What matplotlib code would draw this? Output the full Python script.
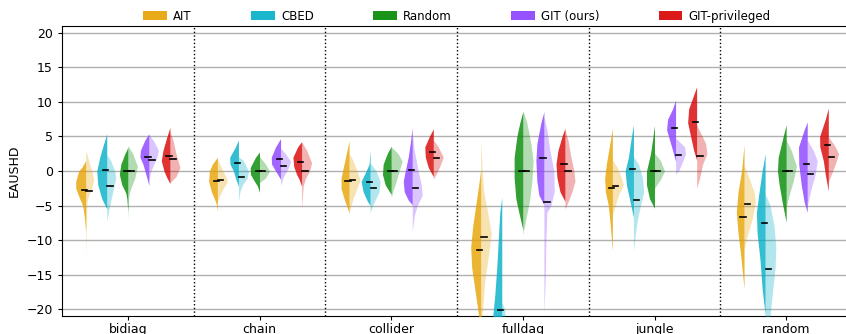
import numpy as np
import matplotlib
matplotlib.use("Agg")
import matplotlib.pyplot as plt
from matplotlib.patches import Patch

groups = ["bidiag", "chain", "collider", "fulldag", "jungle", "random"]
methods = ["AIT", "CBED", "Random", "GIT (ours)", "GIT-privileged"]
colors = ["#E6A100", "#00AEC7", "#008800", "#8A40FF", "#D90000"]

# half-violin outlines per group: (left half, right half), each a list of (EAUSHD, density)
ait_profiles = [
    ([(1.5, 0), (0.5, 4), (0, 7), (-1.5, 10), (-2.5, 10), (-4, 6), (-5, 3), (-6.5, 1.5), (-8.7, 0)],
     [(3.1, 0), (1.5, 3), (0, 6), (-1.2, 8), (-2.5, 6), (-3.5, 3), (-4.5, 1.2), (-8, 0.8), (-12.4, 0)]),
    ([(2.0, 0), (1, 5), (0, 8), (-1.5, 8.7), (-3, 6), (-4.2, 2.5), (-4.8, 1), (-5.8, 0)],
     [(1.7, 0), (0.5, 4), (-1, 9), (-1.5, 10), (-2.5, 6), (-3.5, 2.5), (-4.4, 0)]),
    ([(4.4, 0), (3, 2), (1, 5), (-1, 8), (-2.5, 8), (-4, 5), (-5.2, 2), (-6.1, 0)],
     [(2.6, 0), (1.5, 4), (0, 8), (-1.3, 11), (-2.5, 8), (-4, 4), (-6, 0)]),
    ([(0.2, 0), (-2, 2), (-5, 5), (-8, 8), (-11, 10), (-14, 9), (-17, 6), (-20, 3), (-23, 0)],
     [(4.5, 0), (0, 1.5), (-3, 3), (-6, 7), (-9, 10.5), (-12, 8), (-16, 4), (-20, 2), (-23, 0)]),
    ([(6.2, 0), (4, 2.5), (1, 6), (-1, 7.7), (-3, 7), (-5, 4), (-8, 2), (-11.6, 0)],
     [(1.6, 0), (0.5, 5), (-1, 9), (-2, 11), (-3.5, 6), (-5, 3), (-6.3, 0)]),
    ([(3.8, 0), (0, 2.5), (-3, 6), (-6, 7.7), (-9, 6), (-12, 3.5), (-17, 0)],
     [(0.8, 0), (-1, 5), (-3, 10), (-4.5, 11.3), (-7, 8), (-9.5, 3), (-11.4, 0)]),
]
cbed_profiles = [
    ([(5.4, 0), (4, 3), (2, 7), (0, 10), (-2, 9), (-4, 5), (-5.5, 0)],
     [(2.4, 0), (1.5, 4), (0, 8), (-1, 9), (-3, 6), (-5, 3), (-7.3, 0)]),
    ([(4.5, 0), (3.5, 3), (2, 8.7), (1, 8.5), (0, 5), (-1, 3), (-2.2, 0)],
     [(2.1, 0), (1.5, 5), (0, 10), (-1, 9), (-2, 4), (-3, 1.5), (-4.4, 0)]),
    ([(3.1, 0), (1, 1), (0, 4), (-1.5, 9), (-3, 7), (-4.3, 3), (-5, 0)],
     [(1.25, 0), (0, 6), (-1.5, 10), (-3, 9), (-4.5, 4), (-6, 0)]),
    ([(-3.8, 0), (-6, 2), (-10, 3.5), (-14, 5), (-18, 7), (-21, 9), (-24, 5), (-27, 0)],
     [(-19, 0), (-20, 3), (-23, 4), (-27, 0)]),
    ([(6.7, 0), (5, 2), (2, 5), (0, 8.3), (-2, 7), (-4, 4), (-6.7, 0)],
     [(2.1, 0), (1, 5), (-1, 9), (-3, 10.3), (-5, 7), (-7, 4), (-9, 2), (-11.6, 0)]),
    ([(2.5, 0), (0, 3), (-3, 6), (-6, 8.7), (-9, 8), (-13, 5), (-17, 3), (-20.8, 0)],
     [(-3.3, 0), (-5, 5), (-8, 9), (-11, 10.7), (-14, 10), (-18, 7), (-21, 5), (-25, 0)]),
]
random_profiles = [
    ([(3.4, 0), (2.5, 3), (1, 7), (-0.5, 8.5), (-2, 6), (-3.2, 2), (-4, 1), (-5.8, 0)],
     [(3.7, 0), (2.5, 5), (0.7, 9.5), (-1, 7), (-2.5, 3), (-3.5, 1), (-7.1, 0)]),
    ([(2.75, 0), (2, 4), (0.5, 9.3), (-0.5, 9), (-1.5, 5), (-2.2, 2), (-3.1, 0)],
     [(2.1, 0), (1, 6), (0, 10), (-1, 6), (-1.7, 0)]),
    ([(3.6, 0), (2.5, 4), (1, 8), (-0.5, 8.7), (-2, 6), (-3.4, 0)],
     [(3.5, 0), (2.5, 7), (1.4, 11), (0, 8), (-1.5, 5), (-2.8, 2), (-3.9, 0)]),
    ([(8.6, 0), (7, 3), (5, 6), (2, 8.7), (-1, 8.7), (-4, 7), (-6, 4), (-8.5, 0)],
     [(8.8, 0), (7, 4), (4, 8), (1.5, 10.3), (-1.5, 9), (-4, 7), (-7, 3), (-9.2, 0)]),
    ([(6.6, 0), (5, 1.5), (2.5, 4), (0, 8), (-2, 8), (-4, 5), (-5.4, 0)],
     [(2.6, 0), (1.5, 6), (0, 10), (-1.2, 6), (-2.5, 0)]),
    ([(6.7, 0), (5, 3), (2, 8), (0, 8.7), (-2, 7), (-4.5, 4), (-7.4, 0)],
     [(4.5, 0), (3, 5), (0.7, 10.3), (-1.5, 7), (-3.5, 3), (-5.2, 0)]),
]
git_profiles = [
    ([(5.4, 0), (4.5, 4), (3, 8.5), (2, 9), (1, 6), (-0.5, 3), (-2.1, 0)],
     [(5.3, 0), (4.3, 5), (3, 9.5), (2, 8), (1, 5), (0, 2), (-1.2, 0)]),
    ([(4.7, 0), (3.5, 5), (2, 9.3), (1, 9), (0, 5), (-1.2, 0)],
     [(3.3, 0), (2.5, 5), (1.4, 10), (0.5, 8), (-0.8, 3), (-2.1, 0)]),
    ([(6.3, 0), (4, 2), (2, 4), (0, 7), (-1.5, 9), (-3, 8), (-4.2, 4), (-4.9, 0)],
     [(5.5, 0), (3, 2), (0, 6), (-2, 9), (-3.5, 10), (-5, 5), (-6.5, 2), (-8.8, 0)]),
    ([(8.6, 0), (7, 3), (4, 7), (1.5, 8), (-1.5, 7), (-3.5, 5), (-4.9, 0)],
     [(7.9, 0), (6, 3), (3, 6), (0, 10), (-3, 10.3), (-5, 7), (-6, 3), (-10, 2), (-15, 1.5), (-20.8, 0)]),
    ([(10.3, 0), (9, 3), (7.5, 8), (6, 9), (4.5, 6), (3, 3), (1.4, 0)],
     [(4.8, 0), (3.5, 9), (2.5, 10), (1, 6), (0, 3), (-0.4, 0)]),
    ([(7.1, 0), (6, 3), (3.5, 8.7), (1, 8.5), (-2, 6), (-4.5, 3), (-6, 0)],
     [(4.5, 0), (3, 6), (1.5, 10), (-0.5, 8), (-2.5, 4), (-5.1, 0)]),
]
gitp_profiles = [
    ([(6.3, 0), (5, 3), (3, 7), (1.5, 8.7), (0, 6), (-1, 3), (-1.8, 0)],
     [(5.7, 0), (4.5, 3), (2.5, 6), (0.5, 10), (-0.8, 6), (-1.7, 0)]),
    ([(4.25, 0), (3.5, 4), (2, 8.7), (0.7, 8), (-0.5, 5), (-1.2, 2.5), (-2.2, 0)],
     [(4.25, 0), (3, 5), (1.2, 10), (0, 8), (-1, 4), (-2.2, 1.5), (-5.5, 0)]),
    ([(6.1, 0), (5, 4), (3.5, 8.5), (2, 8), (0.5, 5), (-0.8, 0)],
     [(4.5, 0), (3.5, 5), (2, 10), (0.5, 6), (-1.25, 0)]),
    ([(6.2, 0), (5, 3), (3, 7), (1, 9), (-1, 8), (-3, 5), (-4.4, 0)],
     [(6.0, 0), (4.5, 3), (2, 6), (0, 9), (-1.5, 10), (-3, 7), (-4.5, 3), (-5.5, 0)]),
    ([(12.2, 0), (11, 3), (9, 8), (7, 9), (5, 6), (3, 3), (1.6, 0)],
     [(6.7, 0), (5.5, 4), (4, 9), (2.5, 10.3), (1, 6), (-1, 3), (-2.5, 0)]),
    ([(9.1, 0), (7.5, 3), (5, 8.7), (3.5, 8.5), (1.5, 5), (-0.5, 3), (-2.9, 0)],
     [(5.0, 0), (3.5, 7), (2.5, 10.3), (1, 7), (-0.5, 3), (-1.6, 0)]),
]

# medians per group: (left half, right half)
ait_medians = [(-2.7, -2.9), (-1.45, -1.35), (-1.45, -1.25), (-11.4, -9.5), (-2.4, -2.1), (-6.6, -4.8)]
cbed_medians = [(0.1, -2.1), (1.2, -0.9), (-1.55, -2.5), (-20.1, -23.0), (0.25, -4.15), (-7.5, -14.2)]
random_medians = [(0.0, 0.0), (0.0, 0.0), (0.0, 0.0), (0.0, 0.0), (0.0, 0.0), (0.0, 0.0)]
git_medians = [(2.0, 1.6), (1.8, 0.7), (0.2, -2.4), (1.9, -4.5), (6.2, 2.3), (1.0, -0.5)]
gitp_medians = [(2.2, 1.8), (1.25, 0.0), (2.8, 1.9), (1.0, 0.0), (7.05, 2.2), (3.7, 2.0)]

profiles = [ait_profiles, cbed_profiles, random_profiles, git_profiles, gitp_profiles]
medians = [ait_medians, cbed_medians, random_medians, git_medians, gitp_medians]

offsets = [-0.32, -0.16, 0.0, 0.16, 0.32]
dens_scale = 1 / 131.7

plt.rcParams['font.family'] = ['DejaVu Sans']
fig = plt.figure(figsize=(8.46, 3.34), dpi=100)
ax = fig.add_axes([62 / 846, 18 / 334, 790 / 846, 290 / 334])

for m, (prof, med, col) in enumerate(zip(profiles, medians, colors)):
    for g in range(len(groups)):
        c = g + offsets[m]
        left, right = prof[g]
        ly = np.array([p[0] for p in left])
        lw = np.array([p[1] for p in left]) * dens_scale
        ry = np.array([p[0] for p in right])
        rw = np.array([p[1] for p in right]) * dens_scale
        ax.fill_betweenx(ly, c - lw, c, color=col, alpha=0.8, lw=0, zorder=3)
        ax.fill_betweenx(ry, c, c + rw, color=col, alpha=0.3, lw=0, zorder=3)
        ml, mr = med[g]
        ax.plot([c - 0.027, c + 0.013], [ml, ml], color='black', lw=1.2, zorder=4)
        ax.plot([c + 0.004, c + 0.045], [mr, mr], color='black', lw=1.2, zorder=4)

for s in np.arange(0.5, len(groups) - 0.5, 1):
    ax.axvline(s, color='black', ls=':', lw=1, zorder=2)

ax.set_xlim(-0.5, len(groups) - 0.5)
ax.set_ylim(-21, 21)
ax.set_yticks([-20, -15, -10, -5, 0, 5, 10, 15, 20])
ax.set_xticks(range(len(groups)))
ax.set_xticklabels(groups)
ax.yaxis.grid(True, color='#b0b0b0', lw=1)
ax.set_axisbelow(True)
ax.tick_params(labelsize=9, length=3)
ax.tick_params(axis='x', pad=2)
ax.set_ylabel('EAUSHD', fontsize=9)
ax.spines['right'].set_visible(False)

handles = [Patch(facecolor=c, alpha=0.9, label=m) for m, c in zip(methods, colors)]
ax.legend(handles=handles, loc='lower center', bbox_to_anchor=(0.5, 0.995), ncol=5,
          frameon=False, fontsize=8.5, handlelength=2.0, handleheight=0.7,
          handletextpad=0.55, columnspacing=5.0, borderaxespad=0.0)

fig.savefig('out.png', dpi=100)
